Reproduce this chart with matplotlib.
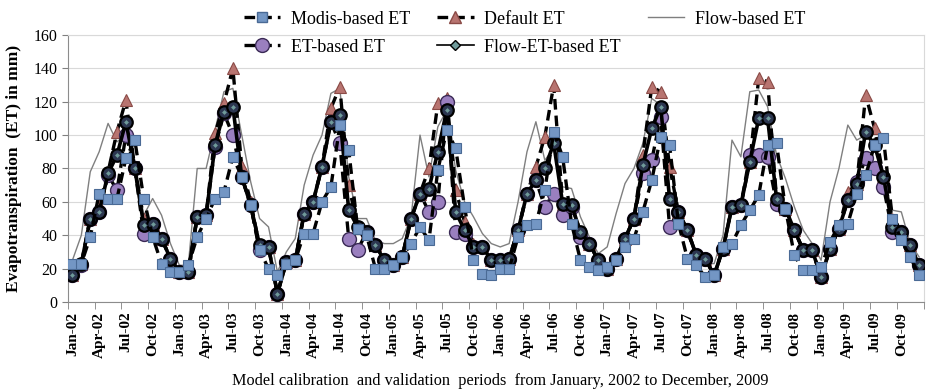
import matplotlib
matplotlib.use('Agg')
import matplotlib.pyplot as plt
from matplotlib.lines import Line2D

plt.rcParams['font.family'] = ['Liberation Serif', 'DejaVu Serif']

# Monthly ET (mm), January 2002 .. December 2009
modis_et = [
    23, 23, 39, 65, 62, 62, 86, 97, 62, 39, 23, 18,
    18, 22, 39, 50, 62, 66, 87, 75, 58, 31, 20, 16,
    23, 25, 41, 41, 60, 69, 106, 91, 44, 40, 20, 20,
    22, 27, 35, 45, 37, 79, 103, 92, 57, 25, 17, 16,
    20, 20, 39, 46, 47, 67, 102, 87, 47, 25, 21, 19,
    21, 25, 33, 38, 54, 73, 99, 94, 47, 26, 22, 15,
    16, 33, 35, 46, 55, 64, 94, 95, 56, 28, 19, 19,
    21, 36, 46, 47, 65, 76, 94, 98, 50, 37, 27, 16,
]
default_et = [
    16, 23, 50, 58, 78, 102, 121, 80, 50, 47, 38, 26,
    18, 18, 51, 52, 101, 119, 140, 81, 60, 33, 33, 5,
    24, 25, 53, 60, 81, 116, 129, 70, 45, 42, 34, 25,
    22, 27, 50, 65, 80, 119, 122, 67, 48, 35, 33, 25,
    25, 26, 43, 65, 81, 99, 130, 59, 58, 42, 35, 25,
    20, 26, 38, 50, 88, 129, 126, 81, 54, 43, 28, 26,
    16, 32, 57, 58, 84, 134, 132, 62, 56, 43, 31, 31,
    15, 32, 44, 66, 71, 124, 104, 75, 50, 42, 34, 22,
]
flow_et = [
    25, 40, 78, 90, 107, 96, 100, 85, 52, 62, 52, 35,
    22, 22, 80, 80, 103, 126, 128, 100, 72, 50, 45, 18,
    30, 38, 70, 88, 100, 125, 128, 75, 50, 50, 37, 35,
    35, 38, 51, 100, 75, 105, 115, 79, 60, 51, 41, 35,
    33, 35, 60, 90, 108, 85, 92, 69, 68, 51, 39, 29,
    33, 53, 71, 80, 95, 122, 118, 66, 52, 39, 31, 23,
    23, 40, 97, 87, 126, 127, 117, 88, 74, 57, 43, 35,
    25, 60, 80, 106, 97, 100, 93, 75, 55, 54, 35, 27,
]
et_based_et = [
    16, 22, 50, 54, 76, 67, 100, 80, 41, 47, 38, 26,
    18, 18, 51, 52, 93, 113, 100, 75, 58, 31, 33, 5,
    24, 25, 53, 60, 81, 108, 95, 38, 31, 42, 34, 25,
    22, 27, 50, 65, 54, 60, 120, 42, 41, 33, 33, 25,
    25, 26, 43, 65, 73, 57, 65, 52, 57, 39, 35, 25,
    20, 26, 38, 50, 77, 85, 111, 45, 54, 43, 28, 26,
    16, 32, 57, 58, 88, 88, 87, 59, 56, 43, 31, 31,
    15, 32, 44, 61, 72, 86, 80, 69, 42, 42, 34, 22,
]
flow_et_based_et = [
    16, 23, 50, 54, 77, 88, 108, 80, 46, 47, 38, 26,
    18, 18, 51, 52, 94, 114, 117, 75, 58, 34, 33, 5,
    24, 25, 53, 60, 81, 108, 112, 55, 45, 42, 34, 25,
    22, 27, 50, 65, 68, 90, 115, 54, 43, 33, 33, 25,
    25, 26, 43, 65, 73, 80, 95, 59, 58, 42, 35, 25,
    20, 26, 38, 50, 82, 104, 117, 62, 54, 43, 28, 26,
    16, 32, 57, 58, 84, 110, 110, 62, 56, 43, 31, 31,
    15, 32, 44, 61, 71, 102, 94, 75, 45, 42, 34, 22,
]

years = [2, 3, 4, 5, 6, 7, 8, 9]
quarter_months = ['Jan', 'Apr', 'Jul', 'Oct']
tick_labels = [f'{m}-{y:02d}' for y in years for m in quarter_months]

months = list(range(len(modis_et)))
dash = (0, (3.2, 1.8))

fig = plt.figure(figsize=(9.26, 3.91), dpi=100)
ax = fig.add_axes([0.0734, 0.2276, 0.924, 0.683])

ax.plot(months, flow_et, color='#7f7f7f', lw=1.0, zorder=2)
ax.plot(months, default_et, color='black', lw=2.4, linestyle=dash,
        marker='^', ms=8, mfc='#b87470', mec='#8a4a46', mew=0.8, zorder=3)
ax.plot(months, et_based_et, color='black', lw=2.4, linestyle=dash,
        marker='o', ms=10, mfc='#9a7fbf', mec='#3a2a55', mew=1.0, zorder=4)
ax.plot(months, flow_et_based_et, color='black', lw=2.6,
        marker='o', ms=9, mfc='#2c3650', mec='black', mew=1.6, zorder=5)
ax.plot(months, flow_et_based_et, linestyle='none',
        marker='D', ms=3, mfc='#6f9a9a', mec='#2c3650', mew=0.5, zorder=6)
ax.plot(months, modis_et, color='black', lw=2.4, linestyle=dash,
        marker='s', ms=6.5, mfc='#7396c4', mec='#4a6a95', mew=0.8, zorder=7)

ax.set_ylim(0, 160)
ax.set_yticks(range(0, 161, 20))
ax.set_xlim(-0.5, len(months) - 0.5)
ax.set_xticks(range(0, len(months), 3))
ax.set_xticklabels(tick_labels, rotation=90, fontsize=11, fontweight='bold')
ax.set_xticks([x - 0.5 for x in range(0, len(months) + 1, 3)], minor=True)
ax.tick_params(axis='x', which='major', length=0, pad=7)
ax.tick_params(axis='x', which='minor', length=5, color='#808080')
ax.tick_params(axis='y', length=4, color='#808080', labelsize=11.5)

ax.grid(axis='y', color='#d9d9d9', lw=0.8)
ax.set_axisbelow(True)
for side in ['top', 'right']:
    ax.spines[side].set_color('#d9d9d9')
for side in ['left', 'bottom']:
    ax.spines[side].set_color('#8c8c8c')

fig.text(0.015, 0.57, 'Evapotranspiration  (ET) in mm)', rotation=90,
         ha='center', va='center', fontsize=12.5, fontweight='bold')
fig.text(0.54, 0.026,
         'Model calibration  and validation  periods  from January, 2002 to December, 2009',
         ha='center', va='center', fontsize=11.7)

handles = [
    Line2D([], [], color='black', lw=2.4, linestyle=dash, marker='s', ms=6.5,
           mfc='#7396c4', mec='#4a6a95'),
    Line2D([], [], color='black', lw=2.4, linestyle=dash, marker='o', ms=10,
           mfc='#9a7fbf', mec='#3a2a55'),
    Line2D([], [], color='black', lw=2.4, linestyle=dash, marker='^', ms=8,
           mfc='#b87470', mec='#8a4a46'),
    Line2D([], [], color='black', lw=1.2, marker='D', ms=5,
           mfc='#6f9a9a', mec='black'),
    Line2D([], [], color='#7f7f7f', lw=1.0),
]
labels = ['Modis-based ET', 'ET-based ET', 'Default ET',
          'Flow-ET-based ET', 'Flow-based ET']
fig.legend(handles, labels, ncol=3, loc='upper left',
           bbox_to_anchor=(0.25, 1.005), frameon=False, fontsize=13,
           handlelength=2.0, handletextpad=0.6, columnspacing=1.5,
           labelspacing=0.6, borderpad=0.2)

fig.savefig('out.png', dpi=100)
